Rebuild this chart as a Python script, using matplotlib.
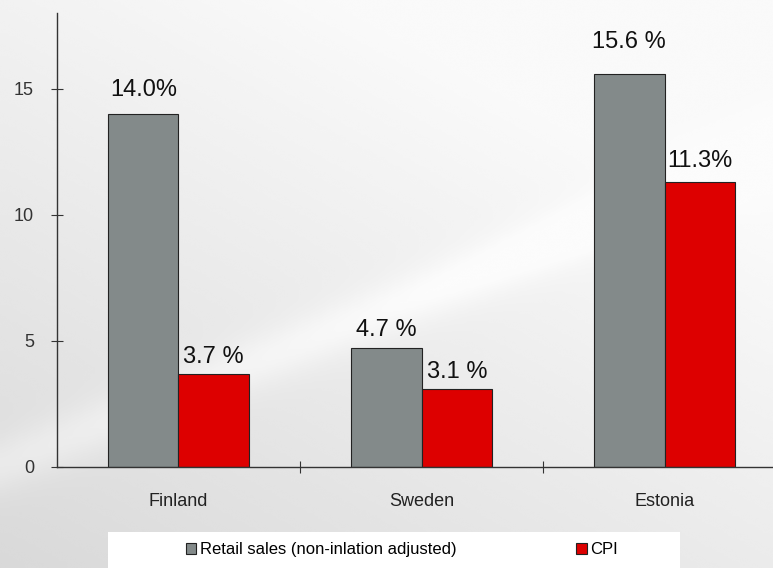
import numpy as np
import matplotlib.pyplot as plt
from matplotlib.patches import Patch, Rectangle

plt.rcParams['font.family'] = ['Liberation Sans', 'DejaVu Sans']

countries = ['Finland', 'Sweden', 'Estonia']
retail_sales = [14.0, 4.7, 15.6]
cpi = [3.7, 3.1, 11.3]
retail_labels = ['14.0%', '4.7 %', '15.6 %']
cpi_labels = ['3.7 %', '3.1 %', '11.3%']

# gap between bar top and its value label, in points
retail_offsets = [9, 5, 15]
cpi_offsets = [4, 4, 7]

gray = '#838a8a'
red = '#dd0000'

fig = plt.figure(figsize=(7.73, 5.68), dpi=100)

# pale backdrop, darker toward lower left
bg = fig.add_axes([0, 0, 1, 1], zorder=-10)
yy, xx = np.mgrid[0:1:200j, 0:1:200j]
shade = 0.85 + 0.13 * np.clip(0.55 * xx + 0.75 * yy, 0, 1)
band = np.exp(-((yy - 0.55 * xx - 0.18) / 0.05) ** 2) * 0.05
shade = np.clip(shade + band, 0, 0.985)
bg.imshow(shade, cmap='gray', vmin=0, vmax=1, origin='lower',
          extent=[0, 1, 0, 1], aspect='auto', interpolation='bicubic')
bg.axis('off')

ax = fig.add_axes([0.0737, 0.178, 0.9433, 0.799])
ax.set_facecolor('none')

x = np.arange(len(countries))
w = 0.29
b1 = ax.bar(x - w / 2, retail_sales, w, color=gray, edgecolor='#222222', linewidth=0.8)
b2 = ax.bar(x + w / 2, cpi, w, color=red, edgecolor='#222222', linewidth=0.8)

for bars, labels, offs in [(b1, retail_labels, retail_offsets), (b2, cpi_labels, cpi_offsets)]:
    for bar, lab, off in zip(bars, labels, offs):
        ax.annotate(lab, (bar.get_x() + bar.get_width() / 2, bar.get_height()),
                    xytext=(0, off), textcoords='offset points',
                    ha='center', va='bottom', fontsize=17, color='#111111')

ax.set_xlim(-0.5, 2.5)
ax.set_ylim(0, 18)
ax.set_yticks([0, 5, 10, 15])
ax.set_xticks([0.5, 1.5])
ax.set_xticklabels([])
ax.set_xticks(x, minor=True)
ax.set_xticklabels(countries, minor=True)
ax.tick_params(axis='x', which='minor', length=0, pad=19, labelsize=13, labelcolor='#222222')
ax.tick_params(axis='x', which='major', direction='inout', length=9, color='#333333')
ax.tick_params(axis='y', direction='inout', length=9, color='#333333', labelsize=13,
               labelcolor='#333333', pad=12)
for s in ['top', 'right']:
    ax.spines[s].set_visible(False)
for s in ['left', 'bottom']:
    ax.spines[s].set_color('#333333')
    ax.spines[s].set_linewidth(1.0)

# legend strip along the bottom edge
fig.patches.append(Rectangle((0.14, 0.0), 0.74, 0.064, transform=fig.transFigure,
                             facecolor='white', edgecolor='none', zorder=0))
handles = [Patch(facecolor=gray, edgecolor='#222222', linewidth=0.8),
           Patch(facecolor=red, edgecolor='#222222', linewidth=0.8)]
fig.legend(handles, ['Retail sales (non-inlation adjusted)', 'CPI'],
           loc='center', bbox_to_anchor=(0.52, 0.032), ncol=2, frameon=False,
           fontsize=12, handlelength=0.65, handleheight=0.65, handletextpad=0.2,
           columnspacing=7.2)

fig.savefig('out.png', dpi=100)
